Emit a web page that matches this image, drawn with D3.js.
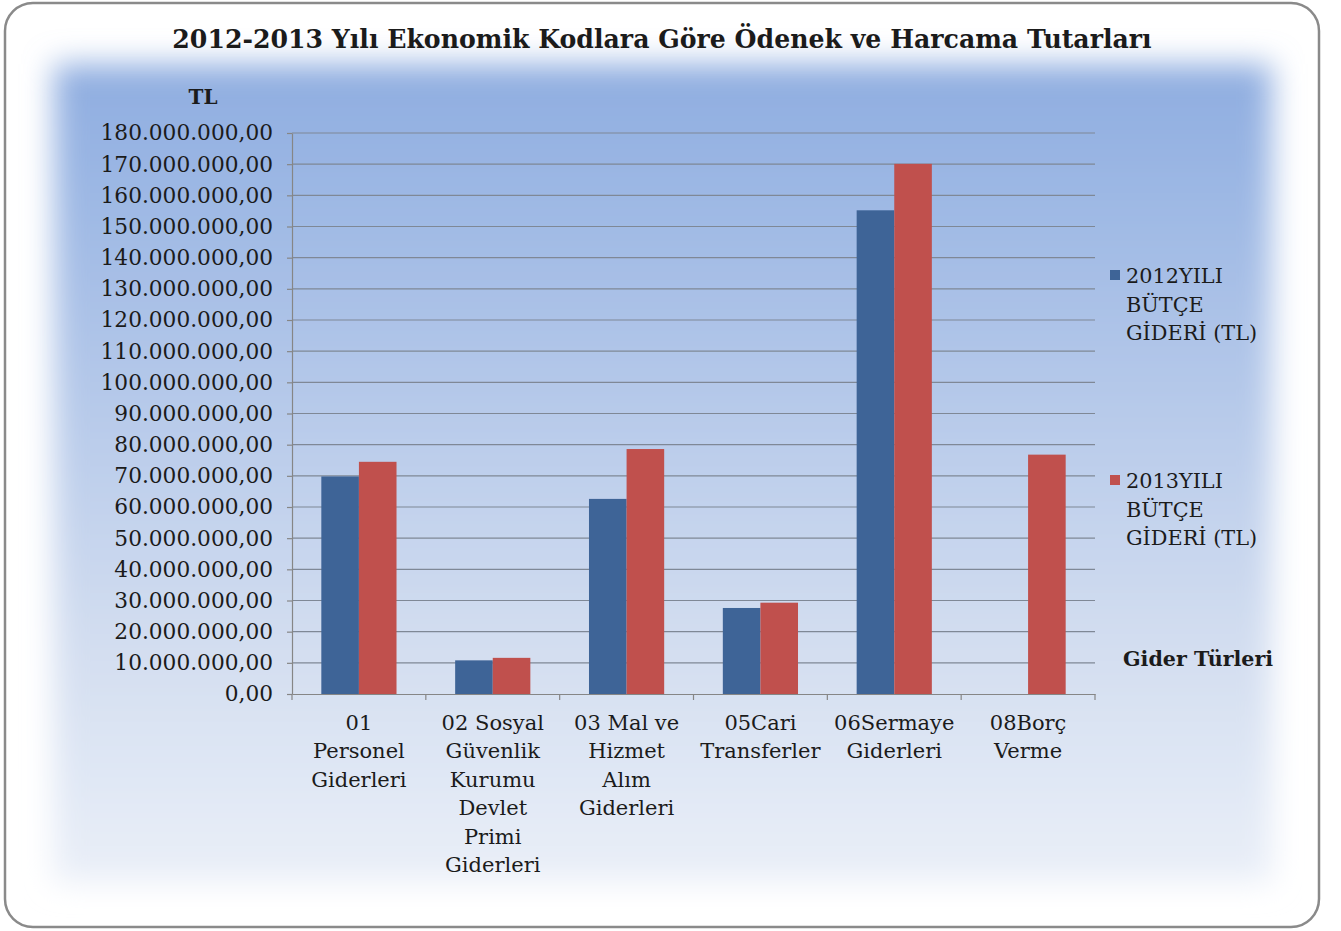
<!DOCTYPE html>
<html>
<head>
<meta charset="utf-8">
<script src="https://cdn.jsdelivr.net/npm/d3@7"></script>
<style>
  html, body { margin: 0; padding: 0; background: #ffffff; }
  svg { display: block; }
  text { font-family: "DejaVu Serif", "Liberation Serif", serif; fill: #1b1b1b; }
</style>
</head>
<body>
<svg id="chart" width="1341" height="931"></svg>
<script>
// Expense categories (economic codes), each split into its printed lines
const categories = [
  "01 Personel Giderleri",
  "02 Sosyal Güvenlik Kurumu Devlet Primi Giderleri",
  "03 Mal ve Hizmet Alım Giderleri",
  "05Cari Transferler",
  "06Sermaye Giderleri",
  "08Borç Verme"
];
const categoryLines = [
  ["01", "Personel", "Giderleri"],
  ["02 Sosyal", "Güvenlik", "Kurumu", "Devlet", "Primi", "Giderleri"],
  ["03 Mal ve", "Hizmet", "Alım", "Giderleri"],
  ["05Cari", "Transferler"],
  ["06Sermaye", "Giderleri"],
  ["08Borç", "Verme"]
];

// Series names and budget expenditure values (TL)
const seriesNames = ["2012YILI BÜTÇE GİDERİ (TL)", "2013YILI BÜTÇE GİDERİ (TL)"];
const legendLines = [
  ["2012YILI", "BÜTÇE", "GİDERİ (TL)"],
  ["2013YILI", "BÜTÇE", "GİDERİ (TL)"]
];
const values2012 = [69800000, 10800000, 62600000, 27600000, 155200000, null];
const values2013 = [74500000, 11600000, 78600000, 29300000, 170100000, 76800000];
const seriesColors = ["#3e6497", "#c0504d"];

// Value axis ticks
const yTicks = d3.range(0, 180000001, 10000000);

const title = "2012-2013 Yılı Ekonomik Kodlara Göre Ödenek ve Harcama Tutarları";
const yAxisTitle = "TL";
const xAxisTitle = "Gider Türleri";

const svg = d3.select("#chart");
const W = 1341, H = 931;
const plot = { left: 292, right: 1095, top: 133, bottom: 694 };

const defs = svg.append("defs");
const grad = defs.append("linearGradient")
  .attr("id", "panelGrad").attr("x1", 0).attr("y1", 0).attr("x2", 0).attr("y2", 1);
grad.append("stop").attr("offset", "0%").attr("stop-color", "#8fade0");
grad.append("stop").attr("offset", "12%").attr("stop-color", "#99b5e3");
grad.append("stop").attr("offset", "70%").attr("stop-color", "#d2ddf0");
grad.append("stop").attr("offset", "100%").attr("stop-color", "#eaeff8");

const soft = defs.append("filter").attr("id", "softEdge")
  .attr("x", "-10%").attr("y", "-10%").attr("width", "120%").attr("height", "120%");
soft.append("feGaussianBlur").attr("stdDeviation", 15);

// white page
svg.append("rect").attr("width", W).attr("height", H).attr("fill", "#ffffff");

// soft-edged gradient panel
svg.append("rect")
  .attr("x", 54).attr("y", 64).attr("width", 1218).attr("height", 818)
  .attr("fill", "url(#panelGrad)")
  .attr("filter", "url(#softEdge)");

// rounded frame
svg.append("rect")
  .attr("x", 5).attr("y", 3).attr("width", 1314).attr("height", 924)
  .attr("rx", 28).attr("ry", 28)
  .attr("fill", "none").attr("stroke", "#8a8a8a").attr("stroke-width", 2.5);

// scales
const x = d3.scaleBand().domain(categories).range([plot.left, plot.right]).paddingInner(0).paddingOuter(0);
const xs = d3.scaleBand().domain(seriesNames).range([0, x.bandwidth()]).paddingInner(0).paddingOuter(0.78);
const y = d3.scaleLinear().domain([0, 180000000]).range([plot.bottom, plot.top]);

const trLocale = d3.formatLocale({ decimal: ",", thousands: ".", grouping: [3], currency: ["", " TL"] });
const fmt = trLocale.format(",.2f");

// horizontal gridlines
svg.append("g").selectAll("line").data(yTicks.filter(d => d > 0)).join("line")
  .attr("x1", plot.left).attr("x2", plot.right)
  .attr("y1", d => y(d)).attr("y2", d => y(d))
  .attr("stroke", "#7f8896").attr("stroke-width", 1.2);

// bars
const rows = categories.map((c, i) => ({ cat: c, vals: [values2012[i], values2013[i]] }));
const groups = svg.append("g").selectAll("g").data(rows).join("g")
  .attr("transform", d => `translate(${x(d.cat)},0)`);
groups.selectAll("rect")
  .data(d => d.vals.map((v, k) => ({ series: seriesNames[k], v, k })).filter(e => e.v != null))
  .join("rect")
  .attr("x", d => xs(d.series))
  .attr("width", xs.bandwidth())
  .attr("y", d => y(d.v))
  .attr("height", d => y(0) - y(d.v))
  .attr("fill", d => seriesColors[d.k]);

// y axis
const yAxis = svg.append("g").attr("transform", `translate(${plot.left},0)`)
  .call(d3.axisLeft(y).tickValues(yTicks).tickFormat(fmt).tickSizeInner(5).tickSizeOuter(0).tickPadding(14));
yAxis.select(".domain").attr("stroke", "#868686").attr("stroke-width", 1.2);
yAxis.selectAll(".tick line").attr("stroke", "#868686").attr("stroke-width", 1.2);
yAxis.selectAll(".tick text")
  .attr("font-family", "DejaVu Serif").attr("font-size", 21.7).attr("fill", "#1b1b1b");

// x axis
const xAxis = svg.append("g").attr("transform", `translate(0,${plot.bottom})`)
  .call(d3.axisBottom(x).tickSize(0).tickFormat(""));
xAxis.select(".domain").attr("stroke", "#868686").attr("stroke-width", 1.2);
xAxis.selectAll(".tick").remove();
const bounds = categories.map(c => x(c)).concat([x(categories[categories.length - 1]) + x.bandwidth()]);
xAxis.selectAll("line.sep").data(bounds).join("line").attr("class", "sep")
  .attr("x1", d => d).attr("x2", d => d).attr("y1", 0).attr("y2", 6)
  .attr("stroke", "#868686").attr("stroke-width", 1.2);

// category labels
const catLabels = svg.append("g");
categories.forEach((c, i) => {
  const t = catLabels.append("text")
    .attr("x", x(c) + x.bandwidth() / 2).attr("y", 730)
    .attr("text-anchor", "middle").attr("font-size", 21);
  categoryLines[i].forEach((ln, j) => {
    t.append("tspan").attr("x", x(c) + x.bandwidth() / 2).attr("y", 730 + j * 28.4).text(ln);
  });
});

// legend
const legendTops = [283, 488];
legendLines.forEach((lines, k) => {
  svg.append("rect").attr("x", 1110).attr("y", legendTops[k] - 13).attr("width", 10).attr("height", 10)
    .attr("fill", seriesColors[k]);
  const t = svg.append("text").attr("font-size", 20.8);
  lines.forEach((ln, j) => {
    t.append("tspan").attr("x", 1126).attr("y", legendTops[k] + j * 28.5).text(ln);
  });
});

// titles
svg.append("text").attr("x", 662).attr("y", 48).attr("text-anchor", "middle")
  .attr("font-size", 25.2).attr("font-weight", "bold").text(title);
svg.append("text").attr("x", 203).attr("y", 104).attr("text-anchor", "middle")
  .attr("font-size", 20).attr("font-weight", "bold").text(yAxisTitle);
svg.append("text").attr("x", 1123).attr("y", 666)
  .attr("font-size", 20.6).attr("font-weight", "bold").text(xAxisTitle);
</script>
</body>
</html>
